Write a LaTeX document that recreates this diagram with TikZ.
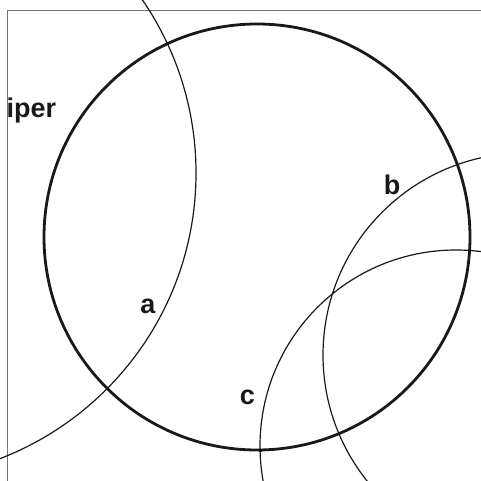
\documentclass[tikz,border=0pt]{standalone}
\usepackage{fontspec}
\setmainfont{Liberation Sans}
\begin{document}
\begin{tikzpicture}[x=1pt,y=-1pt,
  thickcirc/.style={line width=2.8pt,black!90},
  thincirc/.style={line width=1.2pt,black!90},
  framestyle/.style={line width=1pt,black!55},
  lbl/.style={inner sep=0pt,anchor=base,font=\fontsize{27}{30}\selectfont\bfseries,text=black!90}]
\useasboundingbox (0,0) rectangle (481,481);
\clip (0,0) rectangle (481,481);
\coordinate (O) at (257,237);
\coordinate (A) at (-110,173);
\coordinate (B) at (525,355);
\coordinate (C) at (456,446);
\coordinate (D) at (260.7,450.7);
% frame
\draw[framestyle] (7,490) -- (7,11) -- (490,11);
% circles
\draw[thincirc] (A) circle[radius=306];
\draw[thincirc] (B) circle[radius=202];
\draw[thincirc] (C) circle[radius=196];
\draw[thickcirc] (O) circle[radius=213];
\fill[black] (D) circle[radius=1.8];
% labels
\node[lbl,anchor=base west] (iper) at (6.5,118) {iper};
\node[lbl] (la) at (148,313) {a};
\node[lbl] (lb) at (392,194.3) {b};
\node[lbl] (lc) at (247.5,404.3) {c};
\end{tikzpicture}
\end{document}
